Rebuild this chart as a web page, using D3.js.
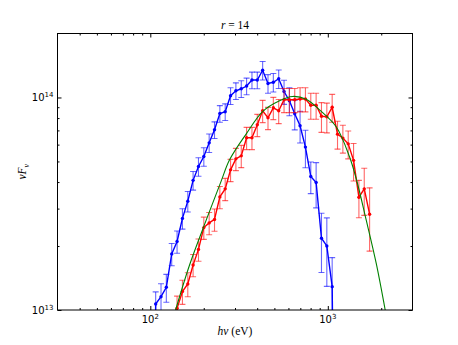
<!DOCTYPE html>
<html><head><meta charset="utf-8">
<script src="https://cdn.jsdelivr.net/npm/d3@7/dist/d3.min.js"></script>
<style>body{margin:0;background:#fff}svg{display:block}</style>
</head><body>
<svg id="chart" width="458" height="345"></svg>
<script>
// photon energy bins (eV)
const energy = [100,107.2,114.9,123.1,132.0,141.5,151.7,162.6,174.2,186.8,200.2,214.6,230.0,246.5,264.2,283.2,303.5,325.4,348.7,373.8,400.6,429.4,460.3,493.3,528.8,566.8,607.5,651.1,697.9,748.0,801.8,859.4,921.1,987.3,1058.2,1134.2,1215.7,1303.0,1396.6,1496.9,1604.4,1719.7];
// blue series, nuFnu in units of 1e13
const blueFlux = [0.01,1.067,1.155,1.279,1.836,2.102,2.698,3.251,4.074,4.732,5.273,6.118,7.044,8.40,8.564,10.19,10.75,10.99,11.32,12.08,12.08,13.43,11.64,11.79,12.25,10.67,9.65,8.38,7.36,5.84,4.25,3.98,2.177,2.002,1.288,0.01,null,null,null,null,null,null];
const blueErr = [0.15,0.14,0.15,0.15,0.12,0.12,0.11,0.11,0.10,0.10,0.10,0.10,0.09,0.09,0.09,0.09,0.09,0.09,0.09,0.09,0.09,0.10,0.10,0.10,0.10,0.13,0.15,0.16,0.17,0.20,0.17,0.24,0.31,0.355,0.37,0.40,null,null,null,null,null,null];
// red series, nuFnu in units of 1e13
const redFlux = [null,null,null,null,0.01,1.019,1.222,1.326,1.629,1.928,2.442,2.569,2.668,3.406,3.715,4.564,5.144,5.313,6.459,6.459,7.437,8.656,8.024,8.94,8.656,9.755,9.755,9.755,9.83,9.83,9.19,9.19,8.156,8.11,8.99,6.72,6.44,6.05,5.06,3.395,3.715,2.824];
const redErr = [null,null,null,null,0.15,0.14,0.13,0.13,0.12,0.12,0.12,0.12,0.12,0.12,0.12,0.12,0.12,0.12,0.12,0.12,0.12,0.12,0.12,0.12,0.13,0.13,0.13,0.13,0.13,0.13,0.14,0.14,0.16,0.16,0.15,0.15,0.15,0.15,0.20,0.20,0.25,0.33];
// green model curve
const modelE = [138.8,166.4,206.7,251,279.6,347.2,430.5,534.6,632.7,755.6,898,1115,1325,1451,1645,1873,2105];
const modelFlux = [1.0,1.629,2.654,4.05,5.09,6.745,8.61,9.65,10.11,9.81,8.75,7.28,5.26,4.10,2.654,1.66,1.0];
const xMajor = [100,1000];
const xMinor = [40,50,60,70,80,90,200,300,400,500,600,700,800,900,2000];
const yMajor = [1e13,1e14];
const yMinor = [2e13,3e13,4e13,5e13,6e13,7e13,8e13,9e13];
const unit = 1e13;

const L=57.5,R=412.5,T=33.5,B=310;
const svg = d3.select('#chart');
const x = d3.scaleLog().domain([30,3000]).range([L,R]);
const y = d3.scaleLog().domain([1e13,2e14]).range([B,T]);

svg.append('clipPath').attr('id','clip').append('rect')
  .attr('x',L).attr('y',T).attr('width',R-L).attr('height',B-T);
const plot = svg.append('g').attr('clip-path','url(#clip)');

function series(flux, err, color){
  const pts = energy.map((e,i)=>({e, v: flux[i]==null?null:flux[i]*unit, r: err[i]})).filter(d=>d.v!=null);
  const g = plot.append('g');
  const eb = g.append('g').attr('stroke',color).attr('stroke-opacity',0.6).attr('stroke-width',1.1);
  pts.forEach(d=>{
    const xp=x(d.e), y1=y(d.v*(1-d.r)), y2=y(d.v*(1+d.r));
    eb.append('line').attr('x1',xp).attr('x2',xp).attr('y1',y1).attr('y2',y2);
    eb.append('line').attr('x1',xp-3).attr('x2',xp+3).attr('y1',y1).attr('y2',y1);
    eb.append('line').attr('x1',xp-3).attr('x2',xp+3).attr('y1',y2).attr('y2',y2);
  });
  g.append('path').datum(pts).attr('fill','none').attr('stroke',color).attr('stroke-width',1.4)
    .attr('d', d3.line().x(d=>x(d.e)).y(d=>y(d.v)));
  g.selectAll('circle').data(pts).enter().append('circle')
    .attr('cx',d=>x(d.e)).attr('cy',d=>y(d.v)).attr('r',1.7).attr('fill',color);
}
series(blueFlux, blueErr, '#0000ff');
series(redFlux, redErr, '#ff0000');

plot.append('path').datum(modelE.map((e,i)=>({e, v:modelFlux[i]*unit})))
  .attr('fill','none').attr('stroke','#008000').attr('stroke-width',1.1)
  .attr('d', d3.line().x(d=>x(d.e)).y(d=>y(d.v)).curve(d3.curveCatmullRom));

// ticks (inside, all four sides)
function tk(axis, scale, vals, size, tr){
  const g = svg.append('g').attr('transform',tr)
    .call(axis(scale).tickValues(vals).tickSize(size).tickFormat(''));
  g.select('.domain').remove();
  g.selectAll('line').attr('stroke','#000');
}
tk(d3.axisBottom,x,xMajor,-4,`translate(0,${B})`);
tk(d3.axisBottom,x,xMinor,-2,`translate(0,${B})`);
tk(d3.axisTop,x,xMajor,-4,`translate(0,${T})`);
tk(d3.axisTop,x,xMinor,-2,`translate(0,${T})`);
tk(d3.axisLeft,y,yMajor,-4,`translate(${L},0)`);
tk(d3.axisLeft,y,yMinor,-2,`translate(${L},0)`);
tk(d3.axisRight,y,yMajor,-4,`translate(${R},0)`);
tk(d3.axisRight,y,yMinor,-2,`translate(${R},0)`);

svg.append('rect').attr('x',L).attr('y',T).attr('width',R-L).attr('height',B-T)
  .attr('fill','none').attr('stroke','#000').attr('stroke-width',1);

// tick labels
const tf = 'DejaVu Sans, sans-serif';
xMajor.forEach(v=>{
  const t = svg.append('text').attr('x',x(v)).attr('y',B+13).attr('text-anchor','middle')
    .attr('font-family',tf).attr('font-size',10).attr('fill','#000');
  t.append('tspan').text('10');
  t.append('tspan').attr('dy',-4).attr('font-size',7).text(String(Math.round(Math.log10(v))));
});
yMajor.forEach(v=>{
  const t = svg.append('text').attr('x',L-4).attr('y',y(v)+3.5).attr('text-anchor','end')
    .attr('font-family',tf).attr('font-size',10).attr('fill','#000');
  t.append('tspan').text('10');
  t.append('tspan').attr('dy',-4).attr('font-size',7).text(String(Math.round(Math.log10(v))));
});

const sf = 'Liberation Serif, DejaVu Serif, serif';
// title
const tt = svg.append('text').attr('x',(L+R)/2).attr('y',29).attr('text-anchor','middle')
  .attr('font-family',sf).attr('font-size',11.5);
tt.append('tspan').attr('font-style','italic').text('r');
tt.append('tspan').text(' = 14');
// x label
const xl = svg.append('text').attr('x',(L+R)/2).attr('y',335).attr('text-anchor','middle')
  .attr('font-family',sf).attr('font-size',11.5);
xl.append('tspan').attr('font-style','italic').text('hν');
xl.append('tspan').text(' (eV)');
// y label
const yl = svg.append('text').attr('transform',`translate(26,${(T+B)/2}) rotate(-90)`)
  .attr('text-anchor','middle').attr('font-family',sf).attr('font-size',11.5).attr('font-style','italic');
yl.append('tspan').text('νF');
yl.append('tspan').attr('dy',2.5).attr('font-size',8).text('ν');
</script>
</body></html>
